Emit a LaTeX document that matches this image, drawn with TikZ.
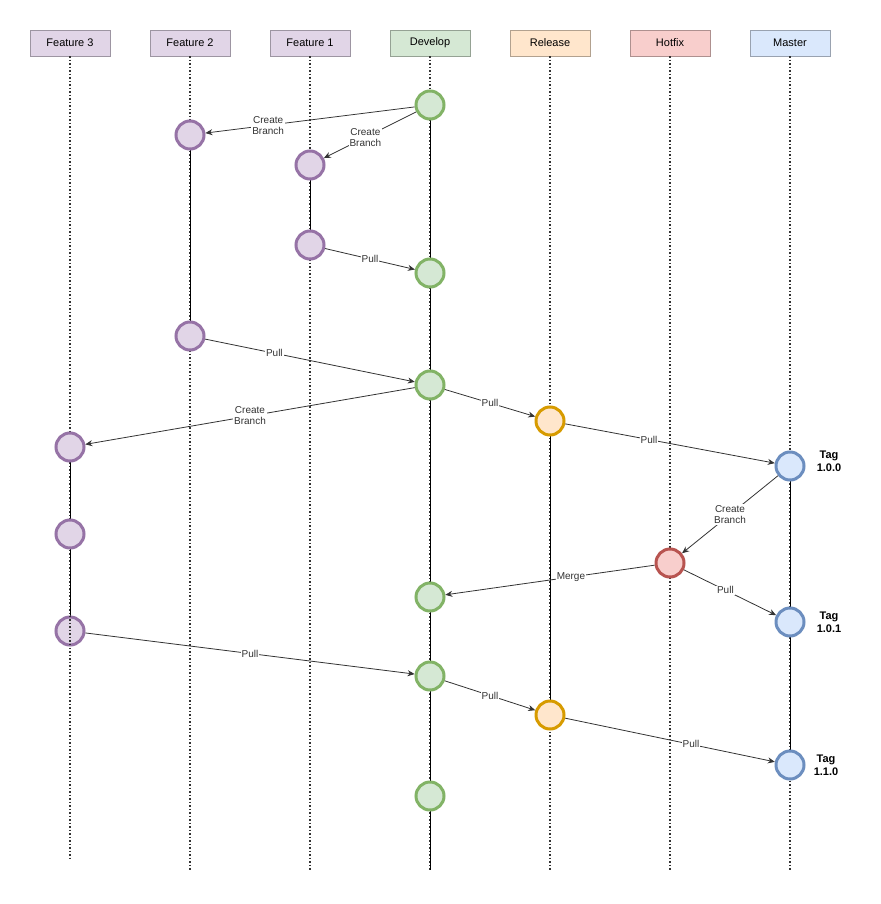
\documentclass[tikz,border=0pt]{standalone}
\usepackage{fontspec}
\setmainfont{Liberation Sans}
\usetikzlibrary{arrows.meta}
\begin{document}
\begin{tikzpicture}[x=1pt,y=-1pt,
  hdr/.style={draw=#1!70!black,fill=#1,minimum width=80pt,minimum height=26pt,inner sep=0pt,font=\fontsize{11}{12}\selectfont},
  cv/.style={circle,line width=3pt,minimum size=28pt,inner sep=0pt},
  pu/.style={cv,draw=vpur,fill=fpur},
  gr/.style={cv,draw=vgre,fill=fgre},
  ora/.style={cv,draw=vora,fill=fora},
  re/.style={cv,draw=vred,fill=fred},
  bl/.style={cv,draw=vblu,fill=fblu},
  life/.style={dotted,line width=1.5pt,black!80},
  seg/.style={line width=1pt,black},
  arr/.style={-{Stealth[length=7pt,width=6pt]},line width=0.8pt,black!80},
  lbl/.style={fill=white,inner sep=1pt,font=\fontsize{10}{11}\selectfont,align=center},
  tag/.style={font=\bfseries\fontsize{11}{13}\selectfont,align=center}]
\definecolor{vpur}{HTML}{9673A6}\definecolor{fpur}{HTML}{E1D5E7}
\definecolor{vgre}{HTML}{82B366}\definecolor{fgre}{HTML}{D5E8D4}
\definecolor{vora}{HTML}{D79B00}\definecolor{fora}{HTML}{FFE6CC}
\definecolor{vred}{HTML}{B85450}\definecolor{fred}{HTML}{F8CECC}
\definecolor{vblu}{HTML}{6C8EBF}\definecolor{fblu}{HTML}{DAE8FC}
\useasboundingbox[fill=white] (0,0) rectangle (880,904);
\node[hdr=fpur] (h1) at (70,43) {Feature 3};
\node[hdr=fpur] (h2) at (190,43) {Feature 2};
\node[hdr=fpur] (h3) at (310,43) {Feature 1};
\node[hdr=fgre] (h4) at (430,43) {Develop};
\node[hdr=fora] (h5) at (550,43) {Release};
\node[hdr=fred] (h6) at (670,43) {Hotfix};
\node[hdr=fblu] (h7) at (790,43) {Master};
\coordinate (e1) at (70,860);
\foreach \i/\x in {2/190,3/310,4/430,5/550,6/670,7/790} \coordinate (e\i) at (\x,870);
\foreach \i in {1,...,7} \draw[life] (h\i.south) -- (e\i);
% segments
\draw[seg] (190,135) -- (190,336);
\draw[seg] (310,165) -- (310,245);
\draw[seg] (70,447) -- (70,631);
\draw[seg] (430,105) -- (430,870);
\draw[seg] (550,421) -- (550,715);
\draw[seg] (790,466) -- (790,765);
% nodes
\node[gr] (D1) at (430,105) {};
\node[pu] (F2a) at (190,135) {};
\node[pu] (F1a) at (310,165) {};
\node[pu] (F1b) at (310,245) {};
\node[gr] (D2) at (430,273) {};
\node[pu] (F2b) at (190,336) {};
\node[gr] (D3) at (430,385) {};
\node[ora] (R1) at (550,421) {};
\node[pu] (F3a) at (70,447) {};
\node[bl] (M1) at (790,466) {};
\node[pu] (F3b) at (70,534) {};
\node[re] (H1) at (670,563) {};
\node[gr] (D4) at (430,597) {};
\node[pu] (F3c) at (70,631) {};
\node[bl] (M2) at (790,622) {};
\node[gr] (D5) at (430,676) {};
\node[ora] (R2) at (550,715) {};
\node[bl] (M3) at (790,765) {};
\node[gr] (D6) at (430,796) {};
\draw[life] (F3c.north) -- (F3c.south);
% edges
\draw[arr] (D1) -- node[lbl,pos=0.7]{Create\\Branch} (F2a);
\draw[arr] (D1) -- node[lbl,pos=0.55]{Create\\Branch} (F1a);
\draw[arr] (F1b) -- node[lbl]{Pull} (D2);
\draw[arr] (F2b) -- node[lbl,pos=0.33]{Pull} (D3);
\draw[arr] (D3) -- node[lbl]{Pull} (R1);
\draw[arr] (D3) -- node[lbl,pos=0.5]{Create\\Branch} (F3a);
\draw[arr] (R1) -- node[lbl,pos=0.4]{Pull} (M1);
\draw[arr] (M1) -- node[lbl]{Create\\Branch} (H1);
\draw[arr] (H1) -- node[lbl,pos=0.4]{Merge} (D4);
\draw[arr] (H1) -- node[lbl,pos=0.45]{Pull} (M2);
\draw[arr] (F3c) -- node[lbl,pos=0.5]{Pull} (D5);
\draw[arr] (D5) -- node[lbl]{Pull} (R2);
\draw[arr] (R2) -- node[lbl,pos=0.6]{Pull} (M3);
\node[tag] (t1) at (829,461) {Tag\\1.0.0};
\node[tag] (t2) at (829,622) {Tag\\1.0.1};
\node[tag] (t3) at (826,765) {Tag\\1.1.0};
\end{tikzpicture}
\end{document}
